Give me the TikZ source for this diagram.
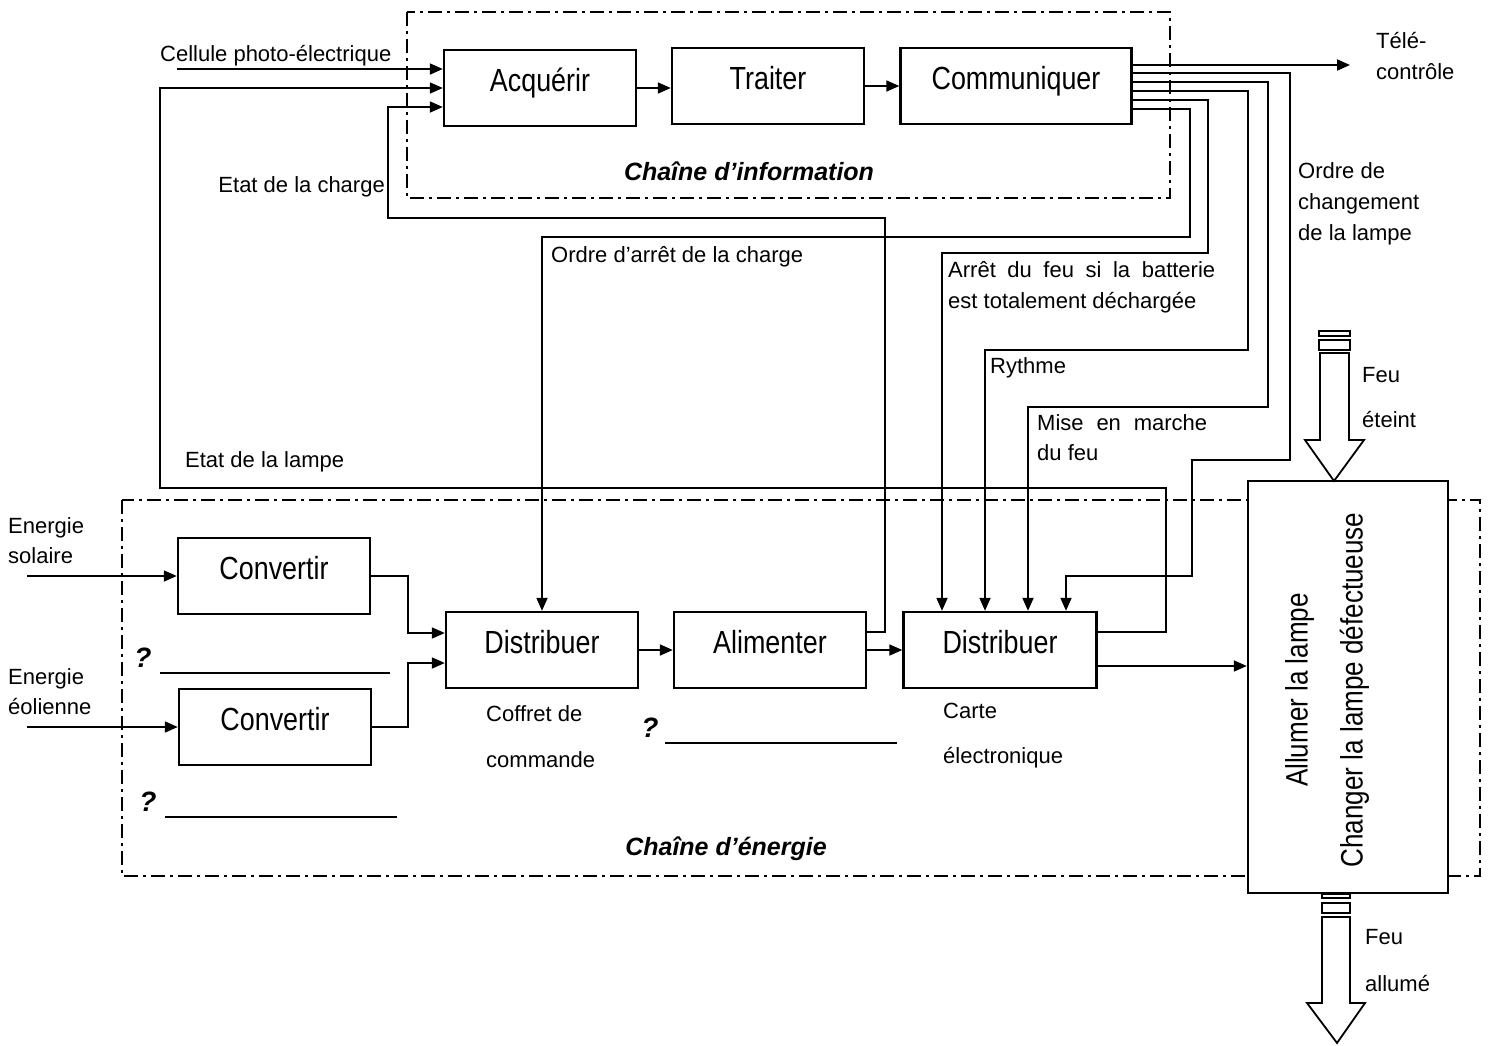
\documentclass[tikz,border=0pt]{standalone}
\usepackage{fontspec}
\setmainfont{Liberation Sans}
\newfontfamily\condfont{Liberation Sans}[FakeStretch=0.84]
\usetikzlibrary{arrows.meta}

\begin{document}
\begin{tikzpicture}[x=1pt,y=-1pt,
	>={Triangle[length=13pt,width=11pt]},
	bloc/.style={draw, line width=2.4pt, minimum width=192pt, minimum height=76pt, text height=23pt, text depth=17pt, font=\condfont\fontsize{32}{34}\selectfont},
	lien/.style={line width=1.8pt},
	lbl/.style={inner sep=0pt, anchor=west, align=left, font=\fontsize{22}{31}\selectfont},
	chaine/.style={line width=1.8pt, dash pattern=on 14pt off 5pt on 3pt off 5pt},
	titre/.style={inner sep=0pt, font=\fontsize{25}{30}\selectfont\bfseries\itshape},
	blanc/.style={line width=1.1pt}]
	\useasboundingbox (0,0) rectangle (1488,1045);

	\draw[chaine] (407,12) rectangle (1170,198);
	\draw[chaine] (122,500) rectangle (1480,876);

	\node[bloc] (acq) at (540,88) {Acquérir};
	\node[bloc] (trait) at (768,86) {Traiter};
	\node[bloc, minimum width=231pt] (comm) at (1016,86) {Communiquer};
	\node[bloc] (conv1) at (274,576) {Convertir};
	\node[bloc] (conv2) at (275,727) {Convertir};
	\node[bloc] (dist1) at (542,650) {Distribuer};
	\node[bloc] (alim) at (770,650) {Alimenter};
	\node[bloc, minimum width=193pt] (dist2) at (1000,650) {Distribuer};
	\node[draw, line width=2.4pt, fill=white, minimum width=200pt, minimum height=412pt] (lamp) at (1348,687) {};
	\node[rotate=90, align=center, font=\condfont\fontsize{31}{55}\selectfont] (lampT) at (1327,690) {Allumer la lampe\\Changer la lampe défectueuse};

	\node[titre] (infoT) at (749,171) {Chaîne d’information};
	\node[titre] (energT) at (726,849) {Chaîne d’énergie};

	\coordinate (cell) at (177,69);
	\coordinate (tele) at (1350,65);
	\coordinate (sol) at (27,576);
	\coordinate (eol) at (27,727);
	\coordinate (d2out) at ([yshift=-16pt]dist2.east);

	\draw[lien,->] (cell) -- ([yshift=19pt]acq.west);
	\draw[lien,->] (acq.east) -- (acq.east -| trait.west);
	\draw[lien,->] (trait) -- (comm);
	\draw[lien,->] ([yshift=18pt]dist2.east) -| (1166,488) -| (160,88) -- (acq.west);
	\draw[lien,->] ([yshift=18pt]alim.east) -| (885,218) -| (388,107) -- ([yshift=-19pt]acq.west);

	\draw[lien,->] ([yshift=21pt]comm.east) -- (tele);
	\draw[lien,->] ([yshift=13pt]comm.east) -| (1290,460) -| (1192,576) -| ([xshift=66pt]dist2.north);
	\draw[lien,->] ([yshift=4pt]comm.east) -| (1268,407) -| ([xshift=28pt]dist2.north);
	\draw[lien,->] ([yshift=-5pt]comm.east) -| (1248,350) -| ([xshift=-15pt]dist2.north);
	\draw[lien,->] ([yshift=-14pt]comm.east) -| (1208,253) -| ([xshift=-58pt]dist2.north);
	\draw[lien,->] ([yshift=-23pt]comm.east) -| (1190,237) -| (dist1.north);

	\draw[lien,->] (sol) -- (conv1.west);
	\draw[lien,->] (eol) -- (conv2.west);
	\draw[lien,->] (conv1.east) -| (408,633) -- ([yshift=17pt]dist1.west);
	\draw[lien,->] (conv2.east) -| (408,663) -- ([yshift=-13pt]dist1.west);
	\draw[lien,->] (dist1) -- (alim);
	\draw[lien,->] (alim) -- (dist2);
	\draw[lien,->] (d2out) -- (d2out -| lamp.west);

	\draw[lien] (1319,331) rectangle (1350,336);
	\draw[lien] (1319,340) rectangle (1350,350);
	\draw[lien] (1320,353) -- (1349,353) -- (1349,440) -- (1364,440) -- (1334,481) -- (1305,440) -- (1320,440) -- cycle;
	\draw[lien] (1322,894) rectangle (1350,898);
	\draw[lien] (1322,903) rectangle (1350,913);
	\draw[lien] (1322,917) -- (1350,917) -- (1350,1003) -- (1365,1003) -- (1337,1043) -- (1307,1003) -- (1322,1003) -- cycle;

	\node[lbl] (cellT) at (160,56) {Cellule photo-électrique};
	\node[lbl, anchor=east] (chargeT) at (385,187) {Etat de la charge};
	\node[lbl] (lampeT) at (185,462) {Etat de la lampe};
	\node[lbl] (arretT) at (551,257) {Ordre d’arrêt de la charge};
	\node[lbl] (feuT) at (948,287) {\makebox[267pt][s]{Arrêt du feu si la batterie}\\est totalement déchargée};
	\node[lbl] (rythT) at (990,368) {Rythme};
	\node[lbl, font=\fontsize{22}{30}\selectfont] (miseT) at (1037,438) {\makebox[170pt][s]{Mise en marche}\\du feu};
	\node[lbl] (chgT) at (1298,204) {Ordre de\\changement\\de la lampe};
	\node[lbl] (teleT) at (1376,56) {Télé-\\contrôle};
	\node[lbl, font=\fontsize{22}{30}\selectfont] (solT) at (8,541) {Energie\\solaire};
	\node[lbl, font=\fontsize{22}{30}\selectfont] (eolT) at (8,692) {Energie\\éolienne};
	\node[lbl, font=\fontsize{22}{46}\selectfont] (coffT) at (486,737) {Coffret de\\commande};
	\node[lbl, font=\fontsize{22}{45}\selectfont] (carteT) at (943,736) {Carte\\électronique};
	\node[lbl, font=\fontsize{22}{45}\selectfont] (eteintT) at (1362,398) {Feu\\éteint};
	\node[lbl, font=\fontsize{22}{47}\selectfont] (allumeT) at (1365,961) {Feu\\allumé};

	\node[titre, font=\fontsize{28}{30}\selectfont\bfseries\itshape] (q1) at (143,658) {?};
	\node[titre, font=\fontsize{28}{30}\selectfont\bfseries\itshape] (q2) at (650,728) {?};
	\node[titre, font=\fontsize{28}{30}\selectfont\bfseries\itshape] (q3) at (148,802) {?};
	\draw[blanc] (160,673) -- (390,673);
	\draw[blanc] (665,743) -- (897,743);
	\draw[blanc] (165,817) -- (397,817);
\end{tikzpicture}
\end{document}
